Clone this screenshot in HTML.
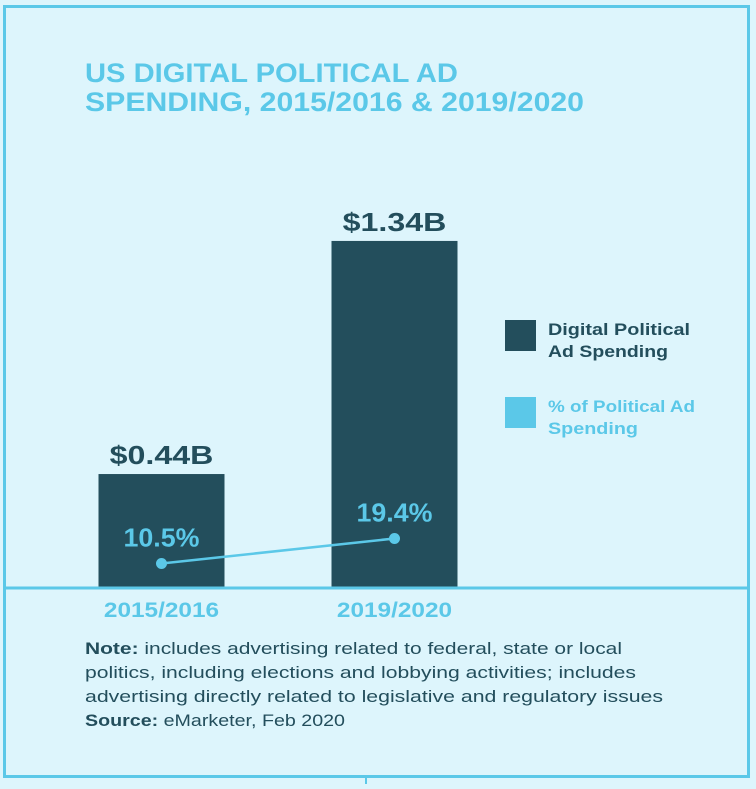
<!DOCTYPE html>
<html><head><meta charset="utf-8"><style>
html,body{margin:0;padding:0;background:#ddf5fc;}
body{width:756px;height:784px;overflow:hidden;font-family:"Liberation Sans",sans-serif;}
</style></head><body>
<svg width="756" height="784" viewBox="0 0 756 784" xmlns="http://www.w3.org/2000/svg">
<rect x="0" y="0" width="756" height="784" fill="#ddf5fc"/>
<rect x="4.5" y="6.5" width="744" height="770" fill="none" stroke="#5bc8e8" stroke-width="3"/>
<line x1="366" y1="776" x2="366" y2="784" stroke="#5bc8e8" stroke-width="2"/>
<text x="85" y="82" font-size="27" font-weight="bold" fill="#5bc8e8" textLength="373" lengthAdjust="spacingAndGlyphs">US DIGITAL POLITICAL AD</text>
<text x="85" y="111" font-size="27" font-weight="bold" fill="#5bc8e8" textLength="499" lengthAdjust="spacingAndGlyphs">SPENDING, 2015/2016 &amp; 2019/2020</text>
<g id="plot"></g>
<line x1="4" y1="588" x2="750" y2="588" stroke="#5bc8e8" stroke-width="3"/>
<rect x="505" y="320" width="31" height="31" fill="#234e5c"/>
<text font-size="17" font-weight="bold" fill="#234e5c"><tspan x="548" y="335" textLength="142" lengthAdjust="spacingAndGlyphs">Digital Political</tspan><tspan x="548" y="357" textLength="120" lengthAdjust="spacingAndGlyphs">Ad Spending</tspan></text>
<rect x="505" y="397" width="31" height="31" fill="#5bc8e8"/>
<text font-size="17" font-weight="bold" fill="#5bc8e8"><tspan x="548" y="412" textLength="147" lengthAdjust="spacingAndGlyphs">% of Political Ad</tspan><tspan x="548" y="434" textLength="90" lengthAdjust="spacingAndGlyphs">Spending</tspan></text>
<text font-size="17" fill="#234e5c">
<tspan x="85" y="654" textLength="537" lengthAdjust="spacingAndGlyphs"><tspan font-weight="bold">Note:</tspan> includes advertising related to federal, state or local</tspan>
<tspan x="85" y="678" textLength="551" lengthAdjust="spacingAndGlyphs">politics, including elections and lobbying activities; includes</tspan>
<tspan x="85" y="702" textLength="578" lengthAdjust="spacingAndGlyphs">advertising directly related to legislative and regulatory issues</tspan>
<tspan x="85" y="726" textLength="260" lengthAdjust="spacingAndGlyphs"><tspan font-weight="bold">Source:</tspan> eMarketer, Feb 2020</tspan>
</text>
</svg>
<script>
const categories = ["2015/2016", "2019/2020"];
const spending = [0.44, 1.34];
const spendingLabels = ["$0.44B", "$1.34B"];
const percent = [10.5, 19.4];
const percentLabels = ["10.5%", "19.4%"];

const NS = "http://www.w3.org/2000/svg";
const plot = document.getElementById("plot");
const xCenter = i => 161.5 + i * 233;
const yBar = v => 588 - v * 259;
const yPct = v => 593 - v * 2.81;
function mk(tag, attrs, parent) {
  const e = document.createElementNS(NS, tag);
  for (const k in attrs) e.setAttribute(k, attrs[k]);
  (parent || plot).appendChild(e);
  return e;
}
categories.forEach((c, i) => {
  const cx = xCenter(i);
  const b = mk("rect", {x: cx - 63, y: yBar(spending[i]), width: 126, height: 588 - yBar(spending[i]), fill: "#234e5c"});
  
  
  const s = spendingLabels[i];
  const t = mk("text", {x: cx, y: yBar(spending[i]) - 10, "text-anchor": "middle", "font-size": 26, "font-weight": "bold", fill: "#234e5c", textLength: s.length * 17.3, lengthAdjust: "spacingAndGlyphs"});
  t.textContent = s;
  
  
  const xl = mk("text", {x: cx, y: 617, "text-anchor": "middle", "font-size": 21, "font-weight": "bold", fill: "#5bc8e8", textLength: c.length * 12.8, lengthAdjust: "spacingAndGlyphs"});
  xl.textContent = c;
  
  
});
const pts = percent.map((v, i) => xCenter(i) + "," + yPct(v)).join(" ");
const line = mk("polyline", {points: pts, fill: "none", stroke: "#5bc8e8", "stroke-width": 2.5});


percent.forEach((v, i) => {
  const cx = xCenter(i);
  const d = mk("circle", {cx: cx, cy: yPct(v), r: 5.5, fill: "#5bc8e8"});
  
  
  const s = percentLabels[i];
  const t = mk("text", {x: cx, y: yPct(v) - 17, "text-anchor": "middle", "font-size": 26, "font-weight": "bold", fill: "#5bc8e8", textLength: s.length * 15.2, lengthAdjust: "spacingAndGlyphs"});
  t.textContent = s;
  
  
});
</script>
</body></html>
